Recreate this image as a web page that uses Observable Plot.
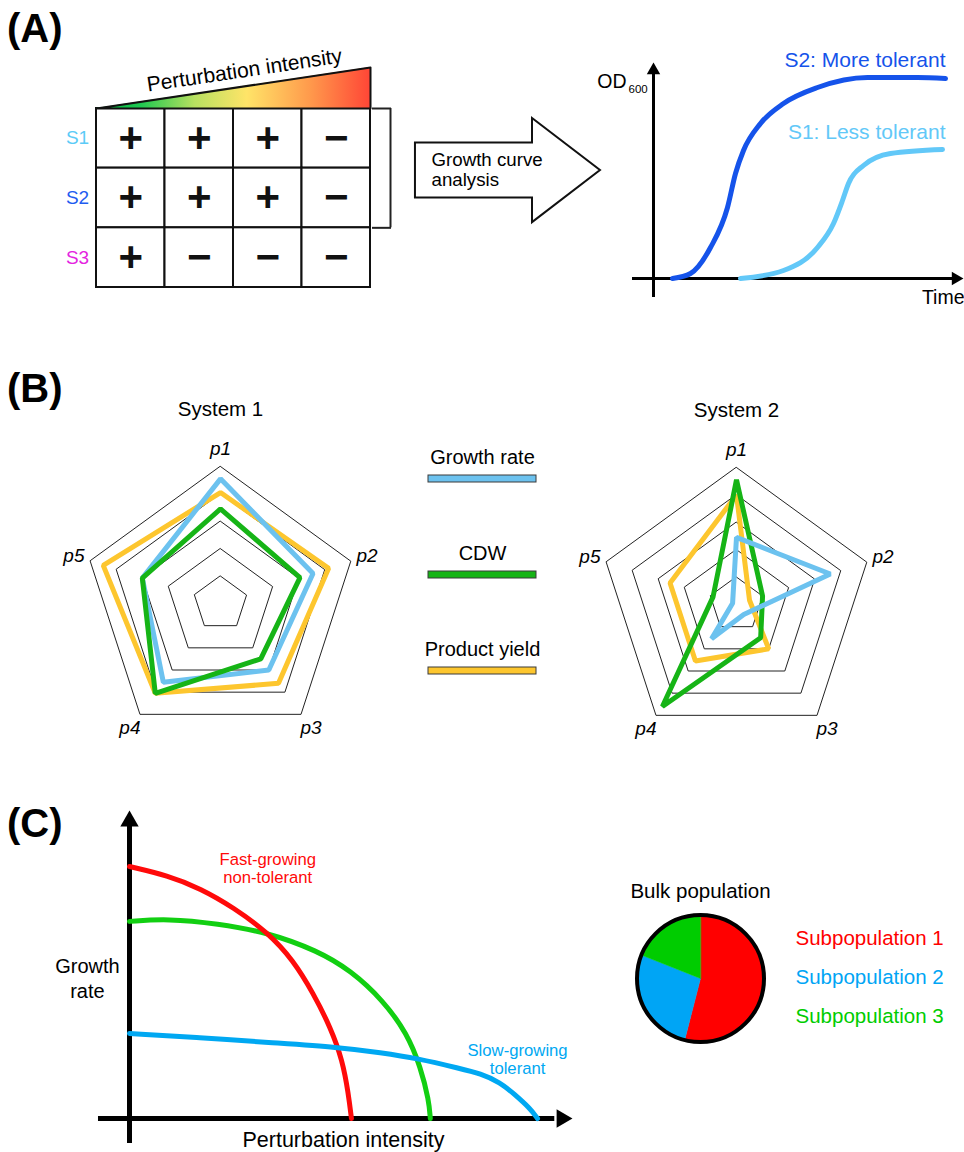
<!DOCTYPE html>
<html><head><meta charset="utf-8">
<script src="https://cdn.jsdelivr.net/npm/d3@7"></script>
<script src="https://cdn.jsdelivr.net/npm/@observablehq/plot@0.6"></script>
<style>
html,body{margin:0;padding:0;background:#fff}
#fig{position:relative;width:964px;height:1152px;background:#fff;overflow:hidden;font-family:"Liberation Sans",Arial,Helvetica,sans-serif}
.panel{position:absolute;font-weight:bold;font-size:40px;line-height:40px;color:#000;white-space:nowrap}
.box{position:absolute;line-height:0}
</style></head><body>
<div id="fig"></div>
<script>
// ---------------- DATA ----------------
// Panel A: growth (+) / no growth (−) of each strain at 4 perturbation levels
const strains = ["S1", "S2", "S3"];
const perturbationLevels = [1, 2, 3, 4];
const growthS1 = ["+", "+", "+", "−"];
const growthS2 = ["+", "+", "+", "−"];
const growthS3 = ["+", "−", "−", "−"];
const intensityRamp = [0, 1];
const wedgeLabel = "Perturbation intensity";

// Panel A: growth curves (time, OD600)
const curveS2Time = [0.95, 1.85, 2.85, 3.7, 4.1, 4.5, 5.35, 6.5, 8.2, 10.7, 13.2, 14.6];
const curveS2OD   = [0, 0.05, 0.31, 0.71, 1.05, 1.28, 1.55, 1.75, 1.91, 2.01, 2.01, 2.0];
const curveS1Time = [4.35, 6.5, 8.2, 9.0, 9.45, 9.75, 10.5, 11.85, 14.45];
const curveS1OD   = [0, 0.08, 0.31, 0.55, 0.78, 0.95, 1.13, 1.25, 1.29];
const curveLabels = ["S2: More tolerant", "S1: Less tolerant"];

// Panel B: radar charts
const radarAxes = ["p1", "p2", "p3", "p4", "p5"];
const radarRings = [0.2, 0.4, 0.6, 0.8, 1.0];
const radarSeries = ["Growth rate", "CDW", "Product yield"];
const system1Growth = [0.91, 0.71, 0.60, 0.71, 0.60];
const system1CDW    = [0.69, 0.61, 0.50, 0.81, 0.60];
const system1Yield  = [0.81, 0.83, 0.72, 0.81, 0.90];
const system2Growth = [0.49, 0.72, 0.09, 0.31, 0.03];
const system2CDW    = [0.91, 0.20, 0.30, 0.92, 0.18];
const system2Yield  = [0.80, 0.10, 0.40, 0.51, 0.51];

// Panel C: growth rate vs perturbation intensity
const fastX = [0, 0.86, 1.60, 2.35, 3.12, 3.70, 4.15, 4.54, 4.81, 4.94, 5.01];
const fastY = [8.18, 7.89, 7.47, 6.85, 6.04, 5.13, 4.06, 2.95, 1.88, 0.81, 0];
const midX  = [0, 0.86, 1.99, 3.12, 4.24, 4.99, 5.73, 6.27, 6.57, 6.76, 6.79];
const midY  = [6.40, 6.49, 6.33, 6.04, 5.45, 4.81, 3.83, 2.75, 1.67, 0.58, 0];
const slowX = [0, 1.60, 3.12, 4.76, 5.67, 6.50, 7.47, 7.92, 8.37, 8.67, 9.05, 9.21];
const slowY = [2.76, 2.63, 2.47, 2.31, 2.14, 1.95, 1.62, 1.46, 1.17, 0.81, 0.32, 0];
const subpopulations = ["Subpopulation 1", "Subpopulation 2", "Subpopulation 3"];
const subpopulationShares = [54, 27, 19];

// ---------------- STYLE ----------------
const FONT = '"Liberation Sans", Arial, Helvetica, sans-serif';
const strainColors = ["#5ccbf7", "#1f5cf0", "#e424e0"];
const s2Color = "#1553ea", s1Color = "#62c8f8";
const seriesColors = ["#6cc2ef", "#16b416", "#fdc62e"];
const subColors = ["#ff0000", "#00a5f5", "#00cc00"];
const cColors = {fast: "#ff0a0a", mid: "#12cf12", slow: "#00a8f2"};
const baseStyle = {background: "none", overflow: "visible", fontFamily: FONT, color: "#000"};

const fig = document.getElementById("fig");
function place(node, left, top) {
  const d = document.createElement("div");
  d.className = "box"; d.style.left = left + "px"; d.style.top = top + "px";
  d.appendChild(node); fig.appendChild(d);
}
[["(A)", 8], ["(B)", 368], ["(C)", 803]].forEach(([t, top]) => {
  const d = document.createElement("div");
  d.className = "panel"; d.textContent = t; d.style.left = "7px"; d.style.top = top + "px";
  fig.appendChild(d);
});

// ---------------- PANEL A: table ----------------
const growthTable = [growthS1, growthS2, growthS3];
const tableCells = strains.flatMap((s, i) => growthTable[i].map((sign, j) => ({strain: s, row: i, level: j, sign})));
const strainRows = strains.map((s, i) => ({name: s, row: i, color: strainColors[i]}));
const nLev = perturbationLevels.length;
place(Plot.plot({
  width: 400, height: 300, marginLeft: 96, marginRight: 30, marginTop: 108, marginBottom: 13,
  style: baseStyle,
  x: {domain: [0, nLev], axis: null},
  y: {domain: [0, strains.length], reverse: true, axis: null},
  color: {type: "identity"},
  marks: [
    Plot.rect(tableCells, {x1: "level", x2: d => d.level + 1, y1: "row", y2: d => d.row + 1, fill: "white", stroke: "#111", strokeWidth: 2}),
    Plot.text(tableCells, {x: d => d.level + 0.5, y: d => d.row + 0.5, text: "sign", fontSize: 42, fontWeight: "bold", fill: "#111"}),
    Plot.text(strainRows, {x: 0, y: d => d.row + 0.5, text: "name", fill: "color", dx: -19, fontSize: 19}),
    Plot.ruleX([nLev], {y1: 0, y2: 2, dx: 20, stroke: "#222", strokeWidth: 2}),
    Plot.ruleY([0, 2], {x1: nLev, x2: nLev, insetLeft: 2, insetRight: -21, stroke: "#222", strokeWidth: 2})
  ]
}), 0, 0);

// ---------------- PANEL A: wedge ----------------
const gradientDefs = () => {
  const ns = "http://www.w3.org/2000/svg";
  const defs = document.createElementNS(ns, "defs");
  const g = document.createElementNS(ns, "linearGradient");
  g.setAttribute("id", "intensityGradient");
  g.setAttribute("x1", "0"); g.setAttribute("x2", "1"); g.setAttribute("y1", "0"); g.setAttribute("y2", "0");
  [[0, "#00b840"], [0.16, "#1cc850"], [0.36, "#b8e060"], [0.55, "#ffe468"], [0.78, "#ff9a4c"], [1, "#ff4636"]].forEach(([o, c]) => {
    const s = document.createElementNS(ns, "stop");
    s.setAttribute("offset", o); s.setAttribute("stop-color", c); g.appendChild(s);
  });
  defs.appendChild(g);
  return defs;
};
const wedge = intensityRamp.map(t => ({t}));
const wedgeOutline = [
  {t: intensityRamp[0], v: intensityRamp[0]},
  {t: intensityRamp[1], v: intensityRamp[1]},
  {t: intensityRamp[1], v: intensityRamp[0]}
];
const wedgeW = 274, wedgeH = 41;
const wedgeAngle = Math.atan2(wedgeH, wedgeW) * 180 / Math.PI;
place(Plot.plot({
  width: 400, height: 300, marginLeft: 96, marginRight: 30, marginTop: 67, marginBottom: 192,
  style: baseStyle,
  x: {domain: [0, 1], axis: null}, y: {domain: [0, 1], axis: null},
  marks: [
    gradientDefs,
    Plot.areaY(wedge, {x: "t", y1: 0, y2: "t", fill: "url(#intensityGradient)"}),
    Plot.line(wedgeOutline, {x: "t", y: "v", curve: "linear-closed", stroke: "#111", strokeWidth: 2}),
    Plot.text([wedgeLabel], {x: 0.54, y: 0.54, text: d => d, rotate: -wedgeAngle, dy: -16, fontSize: 21})
  ]
}), 0, 0);

// ---------------- PANEL A: block arrow ----------------
const blockArrow = (index, scales, values, dims) => {
  const ns = "http://www.w3.org/2000/svg";
  const w = dims.width, h = dims.height;
  const p = document.createElementNS(ns, "path");
  const L = w * 0.068, B = w * 0.6, T = w * 0.909, cy = h * 0.467;
  const rh = h * 0.183, hh = h * 0.347;
  p.setAttribute("d", `M${L},${cy - rh}H${B}V${cy - hh}L${T},${cy}L${B},${cy + hh}V${cy + rh}H${L}Z`);
  p.setAttribute("fill", "white"); p.setAttribute("stroke", "#111"); p.setAttribute("stroke-width", "2");
  return p;
};
place(Plot.plot({
  width: 220, height: 150, margin: 0, style: baseStyle,
  x: {domain: [0, 1], axis: null}, y: {domain: [0, 1], axis: null},
  marks: [
    blockArrow,
    Plot.text(["Growth curve\nanalysis"], {frameAnchor: "top-left", dx: 31, dy: 51, textAnchor: "start", lineAnchor: "top", lineHeight: 1.07, fontSize: 18.7})
  ]
}), 400, 100);

// ---------------- PANEL A: growth curves ----------------
const s2 = curveS2Time.map((t, i) => ({t, od: curveS2OD[i]}));
const s1 = curveS1Time.map((t, i) => ({t, od: curveS1OD[i]}));
place(Plot.plot({
  width: 404, height: 270, margin: 0, style: baseStyle,
  x: {domain: [-4.65, 15.55], axis: null},
  y: {domain: [-0.32, 2.38], axis: null},
  marks: [
    Plot.ruleY([0], {x1: -1.05, x2: 15.1, stroke: "#000", strokeWidth: 3}),
    Plot.ruleX([0], {y1: -0.19, y2: 2.05, stroke: "#000", strokeWidth: 3}),
    Plot.dot([0], {x: 15.5, y: 0, symbol: "triangle", r: 5, rotate: 90, fill: "#000", stroke: "none", dx: -7.8}),
    Plot.dot([0], {x: 0, y: 2.16, symbol: "triangle", r: 5, fill: "#000", stroke: "none", dy: 7.8}),
    Plot.line(s1, {x: "t", y: "od", stroke: s1Color, strokeWidth: 5, curve: "monotone-x"}),
    Plot.line(s2, {x: "t", y: "od", stroke: s2Color, strokeWidth: 5, curve: "monotone-x"}),
    Plot.text([curveLabels[0]], {x: s2[s2.length - 1].t, y: s2[s2.length - 1].od, text: d => d, textAnchor: "end", dy: -18, fill: s2Color, fontSize: 21}),
    Plot.text([curveLabels[1]], {x: s1[s1.length - 1].t, y: s1[s1.length - 1].od, text: d => d, textAnchor: "end", dx: 3, dy: -17, fill: s1Color, fontSize: 21}),
    Plot.text(["OD"], {x: 0, y: 1.97, dx: -27, textAnchor: "end", fontSize: 19.5}),
    Plot.text(["600"], {x: 0, y: 1.89, dx: -25, textAnchor: "start", fontSize: 11.5}),
    Plot.text(["Time"], {frameAnchor: "bottom-right", textAnchor: "end", lineAnchor: "middle", dy: -13, fontSize: 19.5})
  ]
}), 560, 40);

// ---------------- PANEL B: radar charts ----------------
const R = 137;
const polar = (r, i) => {
  const th = i * 2 * Math.PI / radarAxes.length;
  return {x: r * Math.sin(th), y: r * Math.cos(th)};
};
function radarPlot({cx, cy, left, top, width, height, title, series}) {
  const rings = radarRings.flatMap(l => radarAxes.map((a, i) => ({ring: l, ...polar(l, i)})));
  const lines = series.flatMap(s => s.values.map((v, i) => ({name: s.name, color: s.color, ...polar(v, i)})));
  const labels = radarAxes.map((a, i) => ({a, ...polar(1.125, i)}));
  place(Plot.plot({
    width, height, margin: 0, style: baseStyle,
    x: {domain: [(left - cx) / R, (left + width - cx) / R], axis: null},
    y: {domain: [(cy - top - height) / R, (cy - top) / R], axis: null},
    color: {type: "identity"},
    marks: [
      Plot.line(rings, {x: "x", y: "y", z: "ring", curve: "linear-closed", stroke: "#222", strokeWidth: 1}),
      Plot.line(lines, {x: "x", y: "y", z: "name", stroke: "color", strokeWidth: 5, curve: "linear-closed", strokeLinejoin: "miter"}),
      Plot.text(labels, {x: "x", y: "y", text: "a", fontSize: 19, fontStyle: "italic"}),
      Plot.text([title], {x: 0, y: 1.42, text: d => d, fontSize: 20.5})
    ]
  }), left, top);
}
radarPlot({cx: 220, cy: 603, left: 39, top: 391, width: 362, height: 377, title: "System 1",
  series: [
    {name: radarSeries[2], color: seriesColors[2], values: system1Yield},
    {name: radarSeries[0], color: seriesColors[0], values: system1Growth},
    {name: radarSeries[1], color: seriesColors[1], values: system1CDW}
  ]});
radarPlot({cx: 736, cy: 604, left: 555, top: 392, width: 362, height: 377, title: "System 2",
  series: [
    {name: radarSeries[2], color: seriesColors[2], values: system2Yield},
    {name: radarSeries[1], color: seriesColors[1], values: system2CDW},
    {name: radarSeries[0], color: seriesColors[0], values: system2Growth}
  ]});

// legend
const legendItems = radarSeries.map((name, i) => ({name, color: seriesColors[i]}));
place(Plot.plot({
  width: 124, height: 250, marginLeft: 8, marginRight: 8, marginTop: 0, marginBottom: 0, style: baseStyle,
  x: {domain: [0, 1], axis: null},
  y: {type: "band", domain: radarSeries, range: [35, 234], paddingInner: 0.93, paddingOuter: 0, axis: null},
  color: {type: "identity"},
  marks: [
    Plot.barX(legendItems, {x1: 0, x2: 1, y: "name", fill: "color", stroke: "#3a3a3a", strokeWidth: 1}),
    Plot.text(legendItems, {x: 0.5, y: "name", text: "name", dy: -21, fontSize: 20})
  ]
}), 420, 440);

// ---------------- PANEL C: curves ----------------
const fast = fastX.map((x, i) => ({x, y: fastY[i]}));
const mid = midX.map((x, i) => ({x, y: midY[i]}));
const slow = slowX.map((x, i) => ({x, y: slowY[i]}));
place(Plot.plot({
  width: 600, height: 362, marginLeft: 129, marginRight: 28, marginTop: 20, marginBottom: 34, style: baseStyle,
  x: {domain: [0, 10], axis: null}, y: {domain: [0, 10], axis: null},
  marks: [
    Plot.ruleY([0], {x1: -0.70, x2: 9.6, stroke: "#000", strokeWidth: 5}),
    Plot.ruleX([0], {y1: -0.81, y2: 9.6, stroke: "#000", strokeWidth: 5}),
    Plot.dot([0], {x: 10, y: 0, symbol: "triangle", r: 6.8, rotate: 90, fill: "#000", stroke: "none", dx: -10.6}),
    Plot.dot([0], {x: 0, y: 10, symbol: "triangle", r: 6.8, fill: "#000", stroke: "none", dy: 10.6}),
    Plot.line(mid, {x: "x", y: "y", stroke: cColors.mid, strokeWidth: 5, curve: "basis"}),
    Plot.line(fast, {x: "x", y: "y", stroke: cColors.fast, strokeWidth: 5, curve: "basis"}),
    Plot.line(slow, {x: "x", y: "y", stroke: cColors.slow, strokeWidth: 5, curve: "basis"}),
    Plot.text(["Fast-growing\nnon-tolerant"], {x: 3.12, y: 8.14, text: d => d, fill: cColors.fast, fontSize: 16.7, lineHeight: 1.08}),
    Plot.text(["Slow-growing\ntolerant"], {x: 8.76, y: 1.94, text: d => d, fill: cColors.slow, fontSize: 16.7, lineHeight: 1.08}),
    Plot.text(["Growth\nrate"], {x: -0.95, y: 4.59, text: d => d, fontSize: 20, lineHeight: 1.25}),
    Plot.text(["Perturbation intensity"], {x: 4.83, y: -0.69, text: d => d, fontSize: 21.5})
  ]
}), 0, 790);

// ---------------- PANEL C: pie ----------------
const pieArcs = d3.pie().sort(null)(subpopulationShares);
const pieSlices = pieArcs.flatMap((a, k) => {
  const pts = [{x: 0, y: 0}];
  const n = Math.max(2, Math.ceil((a.endAngle - a.startAngle) / 0.02));
  for (let j = 0; j <= n; j++) {
    const th = a.startAngle + (a.endAngle - a.startAngle) * j / n;
    pts.push({x: Math.sin(th), y: Math.cos(th)});
  }
  return pts.map(p => ({...p, name: subpopulations[k], color: subColors[k]}));
});
const pieR = 63.5, pieBox = 140;
const pd = pieBox / 2 / pieR;
place(Plot.plot({
  width: pieBox, height: pieBox, margin: 0, style: baseStyle,
  x: {domain: [-pd, pd], axis: null}, y: {domain: [-pd, pd], axis: null},
  color: {type: "identity"},
  marks: [
    Plot.line(pieSlices, {x: "x", y: "y", z: "name", fill: "color", stroke: "color", strokeWidth: 0.5, curve: "linear-closed"}),
    Plot.dot([0], {x: 0, y: 0, r: pieR, fill: "none", stroke: "#000", strokeWidth: 4}),
    Plot.text(["Bulk population"], {frameAnchor: "top", dy: -25.4, fontSize: 20.5})
  ]
}), 630, 908);

const pieItems = subpopulations.map((name, i) => ({name, color: subColors[i]}));
place(Plot.plot({
  width: 169, height: 110, margin: 0, style: baseStyle,
  y: {type: "point", domain: subpopulations, range: [17.6, 95.6], padding: 0, axis: null},
  color: {type: "identity"},
  marks: [
    Plot.text(pieItems, {y: "name", frameAnchor: "left", text: "name", fill: "color", textAnchor: "start", fontSize: 20.5})
  ]
}), 795, 920);
</script>
</body></html>
